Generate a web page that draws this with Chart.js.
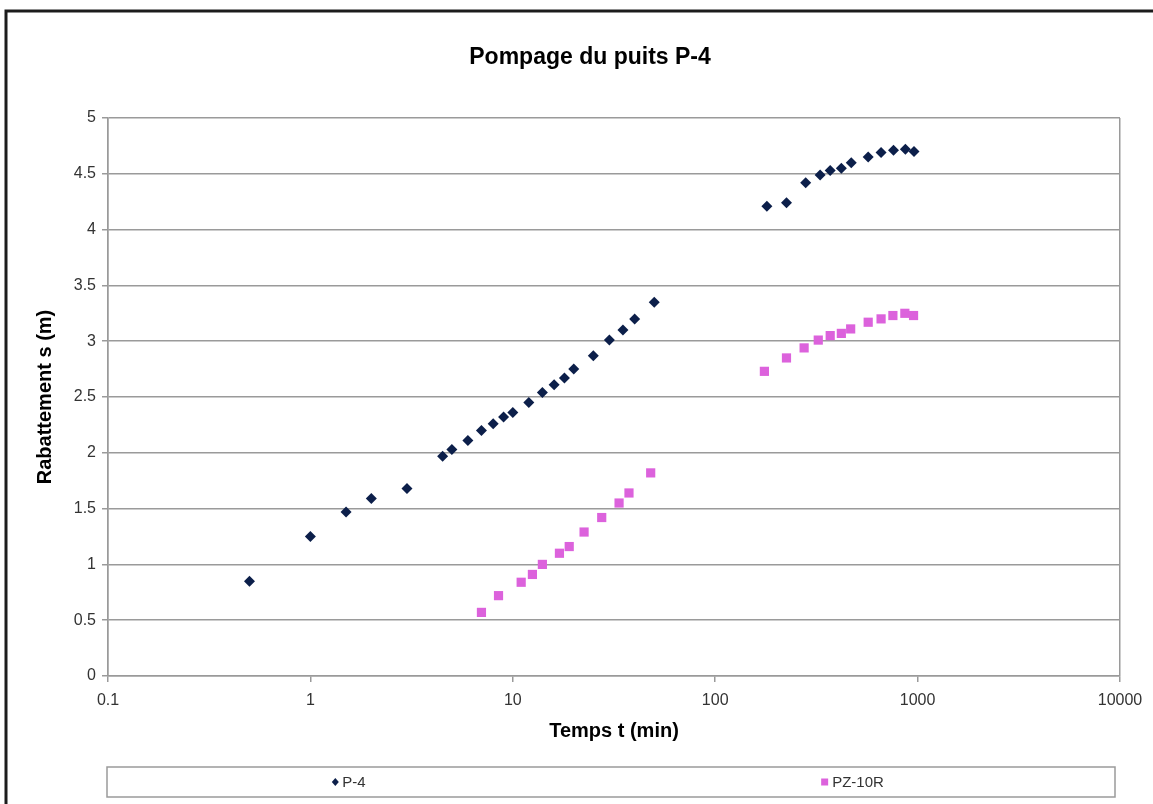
<!DOCTYPE html>
<html lang="fr">
<head>
    <meta charset="UTF-8">
    <title>Pompage du puits P-4</title>
    <script src="https://cdn.jsdelivr.net/npm/chart.js"></script>
    <style>
        html, body { margin: 0; padding: 0; background: #fff; }
        #wrap { width: 1153px; height: 804px; }
    </style>
</head>
<body>
<div id="wrap"><canvas id="pompage" width="1153" height="804"></canvas></div>
<script>
// temps (min) et rabattement (m) du puits de pompage
const p4Time = [0.5, 1, 1.5, 2, 3, 4.5, 5, 6, 7, 8, 9, 10, 12, 14, 16, 18, 20, 25, 30, 35, 40, 50,
                180, 225, 280, 330, 370, 420, 470, 570, 660, 760, 870, 960];
const p4Drawdown = [0.85, 1.25, 1.47, 1.59, 1.68, 1.97, 2.03, 2.11, 2.20, 2.26, 2.32, 2.36, 2.45, 2.54, 2.61, 2.67, 2.75, 2.87, 3.01, 3.10, 3.20, 3.35,
                    4.21, 4.24, 4.42, 4.49, 4.53, 4.55, 4.60, 4.65, 4.69, 4.71, 4.72, 4.70];

// piezometre PZ-10R
const pzTime = [7, 8.5, 11, 12.5, 14, 17, 19, 22.5, 27.5, 33.5, 37.5, 48,
                175, 225, 275, 323, 370, 420, 467, 570, 660, 755, 865, 955];
const pzDrawdown = [0.57, 0.72, 0.84, 0.91, 1.00, 1.10, 1.16, 1.29, 1.42, 1.55, 1.64, 1.82,
                    2.73, 2.85, 2.94, 3.01, 3.05, 3.07, 3.11, 3.17, 3.20, 3.23, 3.25, 3.23];

const xTicks = [0.1, 1, 10, 100, 1000, 10000];
const xTickLabels = ['0.1', '1', '10', '100', '1000', '10000'];
const yTicks = [0, 0.5, 1, 1.5, 2, 2.5, 3, 3.5, 4, 4.5, 5];

const seriesNames = ['P-4', 'PZ-10R'];

const gridGrey = '#9a9a9a';
const toPoints = (xs, ys) => xs.map((x, i) => ({ x: x, y: ys[i] }));

Chart.defaults.font.family = '"Liberation Sans", Arial, sans-serif';

// cadre exterieur + fond blanc
const framePlugin = {
    id: 'frame',
    beforeDraw(chart) {
        const ctx = chart.ctx;
        ctx.save();
        ctx.fillStyle = '#fff';
        ctx.fillRect(0, 0, chart.width, chart.height);
        ctx.strokeStyle = '#1c1c1c';
        ctx.lineWidth = 3;
        ctx.beginPath();
        ctx.moveTo(6, chart.height + 5);
        ctx.lineTo(6, 11);
        ctx.lineTo(chart.width + 5, 11);
        ctx.stroke();
        ctx.restore();
    }
};

// legende en bas, dans une boite, une colonne par serie
const boxLegend = {
    id: 'boxLegend',
    afterDraw(chart) {
        const ctx = chart.ctx;
        const left = 107, top = 767, w = 1008, h = 30;
        ctx.save();
        ctx.strokeStyle = gridGrey;
        ctx.lineWidth = 1.5;
        ctx.strokeRect(left, top, w, h);
        ctx.font = '15px "Liberation Sans", Arial, sans-serif';
        ctx.textBaseline = 'middle';
        const n = chart.data.datasets.length;
        chart.data.datasets.forEach((ds, i) => {
            const cx = left + w * (i + 0.5) / n;
            const tw = ctx.measureText(ds.label).width;
            const start = cx - (tw + 12) / 2 - 10;
            const my = top + h / 2;
            ctx.fillStyle = ds.backgroundColor;
            ctx.beginPath();
            if (ds.pointStyle === 'rectRot') {
                ctx.moveTo(start + 4, my - 4);
                ctx.lineTo(start + 7.5, my);
                ctx.lineTo(start + 4, my + 4);
                ctx.lineTo(start + 0.5, my);
                ctx.closePath();
            } else {
                ctx.rect(start, my - 3.5, 7, 7);
            }
            ctx.fill();
            ctx.fillStyle = '#333';
            ctx.fillText(ds.label, start + 11, my + 1);
        });
        ctx.restore();
    }
};

new Chart(document.getElementById('pompage'), {
    type: 'scatter',
    data: {
        datasets: [{
            label: seriesNames[0],
            data: toPoints(p4Time, p4Drawdown),
            pointStyle: 'rectRot',
            pointRadius: 5.5,
            backgroundColor: '#0c1f4a',
            borderColor: '#0c1f4a',
            borderWidth: 0
        }, {
            label: seriesNames[1],
            data: toPoints(pzTime, pzDrawdown),
            pointStyle: 'rect',
            pointRadius: 6.5,
            backgroundColor: '#dc62dc',
            borderColor: '#dc62dc',
            borderWidth: 0
        }]
    },
    options: {
        responsive: false,
        animation: false,
        layout: { padding: { left: 27, right: 0, top: 0, bottom: 50 } },
        plugins: {
            legend: { display: false },
            tooltip: { enabled: false },
            title: {
                display: true,
                text: 'Pompage du puits P-4',
                color: '#000',
                font: { size: 23, weight: 'bold' },
                padding: { top: 44, bottom: 46.4 }
            }
        },
        scales: {
            x: {
                type: 'logarithmic',
                min: 0.1,
                max: 10000,
                afterBuildTicks: s => { s.ticks = xTicks.map(v => ({ value: v })); },
                afterFit: s => { s.height = 78; s.paddingRight = 33; },
                ticks: {
                    color: '#333',
                    font: { size: 16 },
                    padding: 9,
                    maxRotation: 0,
                    callback: (v) => xTickLabels[xTicks.indexOf(v)]
                },
                grid: {
                    color: ctx => (ctx.index === 0 || ctx.index === xTicks.length - 1) ? gridGrey : 'rgba(0,0,0,0)',
                    tickColor: gridGrey,
                    lineWidth: 1.5,
                    tickLength: 6
                },
                border: { color: gridGrey, width: 1.5 },
                title: {
                    display: true,
                    text: 'Temps t (min)',
                    color: '#000',
                    font: { size: 20, weight: 'bold' },
                    padding: { top: 0, bottom: 11 }
                }
            },
            y: {
                min: 0,
                max: 5,
                afterBuildTicks: s => { s.ticks = yTicks.map(v => ({ value: v })); },
                afterFit: s => { s.width = 81; },
                ticks: {
                    color: '#333',
                    font: { size: 16 },
                    padding: 6,
                    callback: v => String(v)
                },
                grid: {
                    color: gridGrey,
                    tickColor: gridGrey,
                    lineWidth: 1.5,
                    tickLength: 6
                },
                border: { color: gridGrey, width: 1.5 },
                title: {
                    display: true,
                    text: 'Rabattement s (m)',
                    color: '#000',
                    font: { size: 20, weight: 'bold' },
                    padding: { top: 6, bottom: 0 }
                }
            }
        }
    },
    plugins: [framePlugin, boxLegend]
});
</script>
</body>
</html>
